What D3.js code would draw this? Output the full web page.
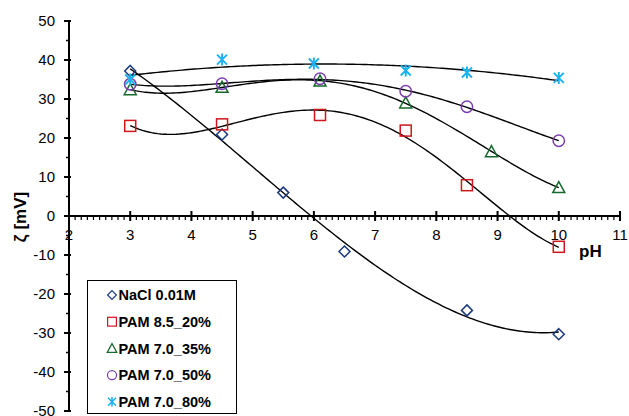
<!DOCTYPE html>
<html>
<head>
<meta charset="utf-8">
<script src="https://cdn.jsdelivr.net/npm/d3@7"></script>
<style>
body { margin: 0; background: #fff; }
text { font-family: Arial, "Liberation Sans", sans-serif; }
</style>
</head>
<body>
<div id="canvas"></div>
<script>
// data
var seriesNames = ['NaCl 0.01M', 'PAM 8.5_20%', 'PAM 7.0_35%', 'PAM 7.0_50%', 'PAM 7.0_80%'];
var nacl_pH   = [3, 4.5, 5.5, 6.5, 8.5, 10];
var nacl_zeta = [37.2, 20.9, 6.0, -9.1, -24.2, -30.3];
var pam20_pH   = [3, 4.5, 6.1, 7.5, 8.5, 10];
var pam20_zeta = [23.1, 23.5, 25.9, 21.9, 7.9, -7.9];
var pam35_pH   = [3, 4.5, 6.1, 7.5, 8.9, 10];
var pam35_zeta = [32.4, 33.0, 34.6, 29.0, 16.5, 7.3];
var pam50_pH   = [3, 4.5, 6.1, 7.5, 8.5, 10];
var pam50_zeta = [33.8, 33.9, 35.2, 32.0, 28.0, 19.3];
var pam80_pH   = [3, 4.5, 6, 7.5, 8.5, 10];
var pam80_zeta = [35.0, 40.1, 39.1, 37.3, 36.8, 35.4];
// polynomial order of each trendline
var trendOrder = [3, 4, 4, 4, 2];
var xTicks = [2, 3, 4, 5, 6, 7, 8, 9, 10, 11];
var yTicks = [-50, -40, -30, -20, -10, 0, 10, 20, 30, 40, 50];

var colors = ['#1b3a7c', '#d0151d', '#17692e', '#7a3db0', '#1ab2ee'];
var shapes = ['diamond', 'square', 'triangle', 'circle', 'star'];

var series = [
    {x: nacl_pH, y: nacl_zeta},
    {x: pam20_pH, y: pam20_zeta},
    {x: pam35_pH, y: pam35_zeta},
    {x: pam50_pH, y: pam50_zeta},
    {x: pam80_pH, y: pam80_zeta}
];

// size
var W = 629, H = 416;

var x = d3.scaleLinear().domain([2, 11]).range([69, 620]);
var y = d3.scaleLinear().domain([-50, 50]).range([411, 21]);

var svg = d3.select('#canvas')
    .append('svg')
    .attr('width', W)
    .attr('height', H);

// polynomial trendline (least squares), like the spreadsheet did
function polyfit(xs, ys, order) {
    var n = order + 1;
    var A = [], b = [];
    for (var i = 0; i < n; i++) {
        A.push([]);
        for (var j = 0; j < n; j++) {
            A[i].push(d3.sum(xs, function(v) { return Math.pow(v, i + j); }));
        }
        b.push(d3.sum(xs, function(v, k) { return ys[k] * Math.pow(v, i); }));
    }
    // gauss elimination
    for (var c = 0; c < n; c++) {
        var p = c;
        for (var r = c + 1; r < n; r++) if (Math.abs(A[r][c]) > Math.abs(A[p][c])) p = r;
        var t = A[c]; A[c] = A[p]; A[p] = t;
        var tb = b[c]; b[c] = b[p]; b[p] = tb;
        for (var r2 = c + 1; r2 < n; r2++) {
            var f = A[r2][c] / A[c][c];
            for (var k = c; k < n; k++) A[r2][k] -= f * A[c][k];
            b[r2] -= f * b[c];
        }
    }
    var coef = new Array(n);
    for (var i2 = n - 1; i2 >= 0; i2--) {
        var s = b[i2];
        for (var j2 = i2 + 1; j2 < n; j2++) s -= A[i2][j2] * coef[j2];
        coef[i2] = s / A[i2][i2];
    }
    return function(v) {
        return d3.sum(coef, function(cf, i) { return cf * Math.pow(v, i); });
    };
}

var line = d3.line()
    .x(function(d) { return x(d[0]); })
    .y(function(d) { return y(d[1]); });

// trendlines
series.forEach(function(s, si) {
    var f = polyfit(s.x, s.y, trendOrder[si]);
    var x0 = d3.min(s.x), x1 = d3.max(s.x);
    var pts = d3.range(0, 141).map(function(i) {
        var v = x0 + (x1 - x0) * i / 140;
        return [v, f(v)];
    });
    svg.append('path')
        .attr('d', line(pts))
        .attr('fill', 'none')
        .attr('stroke', '#000')
        .attr('stroke-width', 1.4);
});

// axes
var xAxisG = svg.append('g').attr('transform', 'translate(0,' + y(0) + ')');
xAxisG.append('line')
    .attr('x1', x(2)).attr('x2', x(11))
    .attr('stroke', '#000').attr('stroke-width', 2);
xAxisG.selectAll('.minor')
    .data(d3.range(20, 111).map(function(v) { return v / 10; }))
    .enter().append('line')
    .attr('x1', function(d) { return x(d); })
    .attr('x2', function(d) { return x(d); })
    .attr('y1', 0).attr('y2', 4)
    .attr('stroke', '#000').attr('stroke-width', 1.2);
xAxisG.selectAll('.major')
    .data(xTicks)
    .enter().append('line')
    .attr('x1', function(d) { return x(d); })
    .attr('x2', function(d) { return x(d); })
    .attr('y1', -5).attr('y2', 5)
    .attr('stroke', '#000').attr('stroke-width', 2);
xAxisG.selectAll('.lbl')
    .data(xTicks)
    .enter().append('text')
    .attr('x', function(d) { return x(d); })
    .attr('y', 23.5)
    .attr('text-anchor', 'middle')
    .style('font-size', '15px')
    .text(function(d) { return d; });

var yAxisG = svg.append('g').attr('transform', 'translate(' + x(2) + ',0)');
yAxisG.append('line')
    .attr('y1', y(-50)).attr('y2', y(50))
    .attr('stroke', '#000').attr('stroke-width', 2);
yAxisG.selectAll('.minor')
    .data(d3.range(-45, 50, 10))
    .enter().append('line')
    .attr('y1', function(d) { return y(d); })
    .attr('y2', function(d) { return y(d); })
    .attr('x1', -3).attr('x2', 0)
    .attr('stroke', '#000').attr('stroke-width', 1.5);
yAxisG.selectAll('.major')
    .data(yTicks)
    .enter().append('line')
    .attr('y1', function(d) { return y(d); })
    .attr('y2', function(d) { return y(d); })
    .attr('x1', -5).attr('x2', 2)
    .attr('stroke', '#000').attr('stroke-width', 2);
yAxisG.selectAll('.lbl')
    .data(yTicks)
    .enter().append('text')
    .attr('x', -14)
    .attr('y', function(d) { return y(d) + 5.3; })
    .attr('text-anchor', 'end')
    .style('font-size', '15px')
    .text(function(d) { return d; });

// axis titles
svg.append('text')
    .attr('transform', 'translate(26,217) rotate(-90)')
    .attr('text-anchor', 'middle')
    .style('font-size', '17px')
    .style('font-weight', 'bold')
    .text('ζ [mV]');
svg.append('text')
    .attr('x', 579)
    .attr('y', 257)
    .style('font-size', '17px')
    .style('font-weight', 'bold')
    .text('pH');

// markers
function marker(g, shape, color) {
    if (shape == 'diamond') {
        g.append('path').attr('d', 'M0,-5.5L5.5,0L0,5.5L-5.5,0Z')
            .attr('fill', 'none').attr('stroke', color).attr('stroke-width', 1.5);
    } else if (shape == 'square') {
        g.append('rect').attr('x', -5.5).attr('y', -5.5).attr('width', 11).attr('height', 11)
            .attr('fill', 'none').attr('stroke', color).attr('stroke-width', 1.5);
    } else if (shape == 'triangle') {
        g.append('path').attr('d', 'M0,-6L6,5L-6,5Z')
            .attr('fill', 'none').attr('stroke', color).attr('stroke-width', 1.5);
    } else if (shape == 'circle') {
        g.append('circle').attr('r', 5.7)
            .attr('fill', 'none').attr('stroke', color).attr('stroke-width', 1.5);
    } else {
        g.append('path').attr('d', 'M-5,-5L5,5M-5,5L5,-5M0,-6L0,6')
            .attr('fill', 'none').attr('stroke', color).attr('stroke-width', 1.9);
    }
}

series.forEach(function(s, si) {
    s.x.forEach(function(v, i) {
        var g = svg.append('g')
            .attr('transform', 'translate(' + x(v) + ',' + y(s.y[i]) + ')');
        marker(g, shapes[si], colors[si]);
    });
});

// legend
var legend = svg.append('g').attr('transform', 'translate(87,280)');
legend.append('rect')
    .attr('x', 0.5).attr('y', 0.5)
    .attr('width', 149).attr('height', 133)
    .attr('fill', '#fff')
    .attr('stroke', '#000').attr('stroke-width', 1);
seriesNames.forEach(function(name, i) {
    var row = legend.append('g').attr('transform', 'translate(25,' + (15 + i * 26.7) + ')');
    var m = row.append('g').attr('transform', 'scale(0.8)');
    marker(m, shapes[i], colors[i]);
    row.append('text')
        .attr('x', 6.5)
        .attr('y', 5.3)
        .style('font-size', '14.5px')
        .style('font-weight', 'bold')
        .text(name);
});
</script>
</body>
</html>
